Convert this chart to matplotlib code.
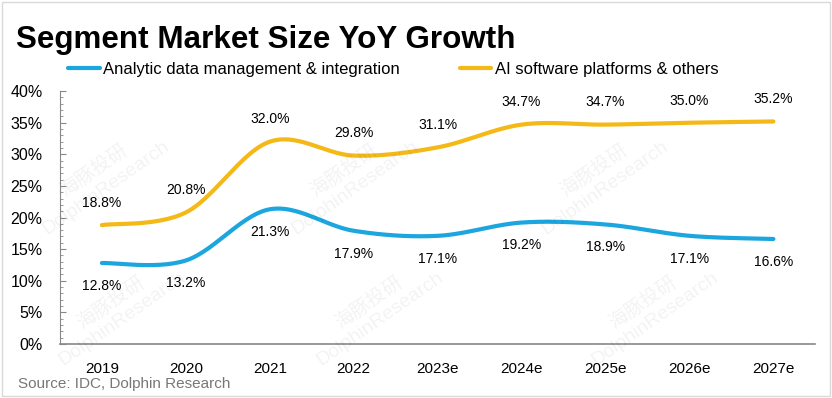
import numpy as np
import matplotlib
matplotlib.use("Agg")
from matplotlib import pyplot as plt
from matplotlib.patches import Rectangle
from matplotlib.ticker import MultipleLocator, FuncFormatter

# data
years = ["2019", "2020", "2021", "2022", "2023e", "2024e", "2025e", "2026e", "2027e"]
analytic = [12.8, 13.2, 21.3, 17.9, 17.1, 19.2, 18.9, 17.1, 16.6]
ai_platforms = [18.8, 20.8, 32.0, 29.8, 31.1, 34.7, 34.7, 35.0, 35.2]
series_names = ["Analytic data management & integration", "AI software platforms & others"]

BLUE = "#1CA6DF"
GOLD = "#F4B916"

plt.rcParams["font.family"] = ["Liberation Sans", "Noto Sans CJK SC", "DejaVu Sans"]


def smooth(xs, ys, n=30):
    # catmull-rom curve through the points, like Excel's "smoothed line"
    xs = np.asarray(xs, float)
    ys = np.asarray(ys, float)
    px = np.concatenate([[xs[0]], xs, [xs[-1]]])
    py = np.concatenate([[ys[0]], ys, [ys[-1]]])
    out_x, out_y = [], []
    t = np.linspace(0, 1, n)
    for i in range(1, len(px) - 2):
        p0x, p1x, p2x, p3x = px[i - 1:i + 3]
        p0y, p1y, p2y, p3y = py[i - 1:i + 3]
        c1x, c1y = p1x + (p2x - p0x) / 6, p1y + (p2y - p0y) / 6
        c2x, c2y = p2x - (p3x - p1x) / 6, p2y - (p3y - p1y) / 6
        bx = (1 - t) ** 3 * p1x + 3 * (1 - t) ** 2 * t * c1x + 3 * (1 - t) * t ** 2 * c2x + t ** 3 * p2x
        by = (1 - t) ** 3 * p1y + 3 * (1 - t) ** 2 * t * c1y + 3 * (1 - t) * t ** 2 * c2y + t ** 3 * p2y
        out_x.extend(bx)
        out_y.extend(by)
    return np.array(out_x), np.array(out_y)


fig = plt.figure(figsize=(8.32, 3.98), dpi=100)
ax = fig.add_axes([0.072, 0.136, 0.908, 0.635])

x = np.arange(len(years))
for vals, color, name in [(analytic, BLUE, series_names[0]), (ai_platforms, GOLD, series_names[1])]:
    sx, sy = smooth(x, vals)
    ax.plot(sx, sy, color=color, lw=3.0, solid_capstyle="round", label=name, zorder=3)

for i, v in enumerate(analytic):
    ax.annotate(f"{v:.1f}%", (i, v), xytext=(0, -16.5), textcoords="offset points",
                ha="center", va="center", fontsize=10)
for i, v in enumerate(ai_platforms):
    ax.annotate(f"{v:.1f}%", (i, v), xytext=(0, 16), textcoords="offset points",
                ha="center", va="center", fontsize=10)

ax.set_xlim(-0.5, len(years) - 0.5)
ax.set_ylim(0, 40)
ax.set_xticks(x)
ax.set_xticklabels(years, fontsize=11)
ax.yaxis.set_major_locator(MultipleLocator(5))
ax.yaxis.set_minor_locator(MultipleLocator(1))
ax.yaxis.set_major_formatter(FuncFormatter(lambda v, p: f"{v:.0f}%"))
ax.tick_params(axis="y", which="major", labelsize=11.5, length=4, color="#888888",
               direction="in", pad=12.5)
ax.tick_params(axis="y", which="minor", length=2.5, color="#888888", direction="in")
ax.tick_params(axis="x", length=0, pad=13)
for s in ["top", "right"]:
    ax.spines[s].set_visible(False)
ax.spines["left"].set_color("#888888")
ax.spines["bottom"].set_color("#888888")
ax.spines["bottom"].set_linewidth(1.2)

ax.legend(loc="center left", bbox_to_anchor=(0.0106, 1.087), ncol=2, frameon=False,
          fontsize=12, handlelength=1.9, handletextpad=0.2, columnspacing=3.6,
          borderpad=0, borderaxespad=0)

fig.text(0.019, 0.879, "Segment Market Size YoY Growth", fontsize=22.6, fontweight="bold",
         va="baseline", ha="left")
fig.text(0.022, 0.035, "Source: IDC, Dolphin Research", fontsize=11, color="#777777",
         va="center", ha="left")

# faint watermarks
for wx, wy in [(0.12, 0.55), (0.42, 0.55), (0.72, 0.55), (0.14, 0.22), (0.45, 0.22), (0.78, 0.22)]:
    fig.text(wx, wy, "海豚投研\nDolphinResearch", fontsize=14, color="#000000", alpha=0.05,
             rotation=35, ha="center", va="center")

fig.patches.append(Rectangle((0.003, 0.005), 0.994, 0.99, transform=fig.transFigure,
                             fill=False, edgecolor="#d9d9d9", lw=1))

fig.savefig("out.png", dpi=100)
